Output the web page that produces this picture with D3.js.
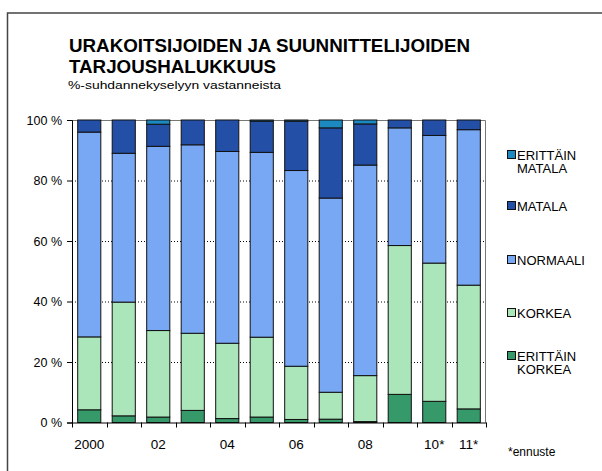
<!DOCTYPE html>
<html>
<head>
<meta charset="utf-8">
<script src="https://cdn.jsdelivr.net/npm/d3@7"></script>
<style>
  body { margin: 0; background: #fff; }
  text { font-family: "Liberation Sans", Arial, sans-serif; fill: #000; }
</style>
</head>
<body>
<div id="chart"></div>
<script>
var svgWidth = 602;
var svgHeight = 471;

// data (percent, bottom to top)
var years = ["2000", "01", "02", "03", "04", "05", "06", "07", "08", "09", "10*", "11*"];
var yearLabels = ["2000", "", "02", "", "04", "", "06", "", "08", "", "10*", "11*"];
var erittainKorkea = [4.2, 2.2, 1.8, 4.0, 1.3, 1.8, 1.0, 1.1, 0.3, 9.3, 7.0, 4.5];
var korkea = [24.1, 37.6, 28.6, 25.5, 24.9, 26.4, 17.6, 8.9, 15.2, 49.2, 45.7, 40.9];
var normaali = [67.7, 49.2, 60.9, 62.3, 63.4, 61.1, 64.7, 64.2, 69.6, 38.9, 42.2, 51.4];
var matala = [4.0, 11.0, 7.3, 8.2, 10.4, 10.3, 16.3, 23.2, 13.6, 2.6, 5.1, 3.2];
var erittainMatala = [0, 0, 1.4, 0, 0, 0.4, 0.4, 2.6, 1.3, 0, 0, 0];
var yTicks = [0, 20, 40, 60, 80, 100];

var seriesKeys = ["ek", "k", "n", "m", "em"];
var seriesNames = {
  ek: ["ERITTÄIN", "KORKEA"],
  k: ["KORKEA"],
  n: ["NORMAALI"],
  m: ["MATALA"],
  em: ["ERITTÄIN", "MATALA"]
};
var colors = {
  ek: "#35996a",
  k: "#aae6b9",
  n: "#78a8f4",
  m: "#2350a6",
  em: "#1c8ac0"
};

var table = years.map(function(y, i) {
  return { year: y, ek: erittainKorkea[i], k: korkea[i], n: normaali[i], m: matala[i], em: erittainMatala[i] };
});

var margin = { top: 120, right: 116, bottom: 48.5, left: 72 };
var width = svgWidth - margin.left - margin.right;
var height = svgHeight - margin.top - margin.bottom;

var svg = d3.select("#chart")
  .append("svg")
  .attr("width", svgWidth)
  .attr("height", svgHeight);

// outer frame
svg.append("rect")
  .attr("x", 7.5)
  .attr("y", 13)
  .attr("width", 620)
  .attr("height", 480)
  .attr("fill", "none")
  .attr("stroke", "#444")
  .attr("stroke-width", 1.5);

// titles
svg.append("text")
  .attr("x", 69).attr("y", 51.5)
  .attr("font-size", "17.5px").attr("font-weight", "bold")
  .attr("textLength", 401).attr("lengthAdjust", "spacingAndGlyphs")
  .text("URAKOITSIJOIDEN JA SUUNNITTELIJOIDEN");
svg.append("text")
  .attr("x", 69).attr("y", 72.5)
  .attr("font-size", "17.5px").attr("font-weight", "bold")
  .attr("textLength", 207).attr("lengthAdjust", "spacingAndGlyphs")
  .text("TARJOUSHALUKKUUS");
svg.append("text")
  .attr("x", 68).attr("y", 88.5)
  .attr("font-size", "11.5px")
  .attr("textLength", 213).attr("lengthAdjust", "spacingAndGlyphs")
  .text("%-suhdannekyselyyn vastanneista");

var chartGroup = svg.append("g")
  .attr("transform", `translate(${margin.left}, ${margin.top})`);

var xScale = d3.scaleBand()
  .domain(years)
  .range([0, width])
  .paddingInner(0.33)
  .paddingOuter(0.165);

var yScale = d3.scaleLinear()
  .domain([0, 100])
  .range([height, 0]);

// dotted gridlines
chartGroup.selectAll(".grid")
  .data(yTicks.filter(d => d > 0 && d < 100))
  .enter()
  .append("line")
  .attr("x1", 0).attr("x2", width)
  .attr("y1", d => yScale(d) + 0.5).attr("y2", d => yScale(d) + 0.5)
  .attr("stroke", "#000")
  .attr("stroke-dasharray", "1,2");

// plot box top and right
chartGroup.append("path")
  .attr("d", `M0,0.5H${width - 0.5}V${height}`)
  .attr("fill", "none")
  .attr("stroke", "#777")
  .attr("stroke-width", 1);

var stack = d3.stack().keys(seriesKeys);
var stacked = stack(table);

chartGroup.selectAll(".series")
  .data(stacked)
  .enter()
  .append("g")
  .attr("fill", d => colors[d.key])
  .selectAll("rect")
  .data(d => d.filter(p => p[1] - p[0] > 0))
  .enter()
  .append("rect")
  .attr("x", d => xScale(d.data.year))
  .attr("y", d => yScale(d[1]))
  .attr("width", xScale.bandwidth())
  .attr("height", d => yScale(d[0]) - yScale(d[1]))
  .attr("stroke", "#111")
  .attr("stroke-width", 1);

// y axis
var leftAxis = d3.axisLeft(yScale)
  .tickValues(yTicks)
  .tickSize(5)
  .tickPadding(5)
  .tickFormat(d => d + " %");
var yAxis = chartGroup.append("g").call(leftAxis);
yAxis.select(".domain").attr("stroke", "#000");
yAxis.selectAll("text")
  .attr("font-size", "12.5px")
  .attr("font-family", "Liberation Sans, Arial, sans-serif");

// x axis: ticks on band boundaries
var bottomAxis = d3.axisBottom(xScale)
  .tickSize(0)
  .tickPadding(17)
  .tickFormat((d, i) => yearLabels[i]);
var xAxis = chartGroup.append("g")
  .attr("transform", `translate(0, ${height})`)
  .call(bottomAxis);
xAxis.select(".domain").attr("stroke", "#000");
xAxis.selectAll("text")
  .attr("font-size", "13.5px")
  .attr("font-weight", "normal")
  .attr("font-family", "Liberation Sans, Arial, sans-serif");

var step = xScale.step();
xAxis.selectAll(".sep")
  .data(d3.range(years.length + 1))
  .enter()
  .append("line")
  .attr("x1", i => Math.round(i * step) + 0.5)
  .attr("x2", i => Math.round(i * step) + 0.5)
  .attr("y1", 0).attr("y2", 5)
  .attr("stroke", "#000");

// legend
var legendY = { em: 155, m: 206, n: 260, k: 313, ek: 356 };
var legend = svg.append("g");
["em", "m", "n", "k", "ek"].forEach(function(key) {
  var cy = legendY[key];
  legend.append("rect")
    .attr("x", 507.5).attr("y", cy - 4.5)
    .attr("width", 8).attr("height", 8)
    .attr("fill", colors[key])
    .attr("stroke", "#111");
  seriesNames[key].forEach(function(line, j) {
    legend.append("text")
      .attr("x", 517)
      .attr("y", cy + 13.5 * j)
      .attr("dy", "0.36em")
      .attr("font-size", "13px")
      .text(line);
  });
});

svg.append("text")
  .attr("x", 508).attr("y", 456)
  .attr("font-size", "12px")
  .text("*ennuste");
</script>
</body>
</html>
